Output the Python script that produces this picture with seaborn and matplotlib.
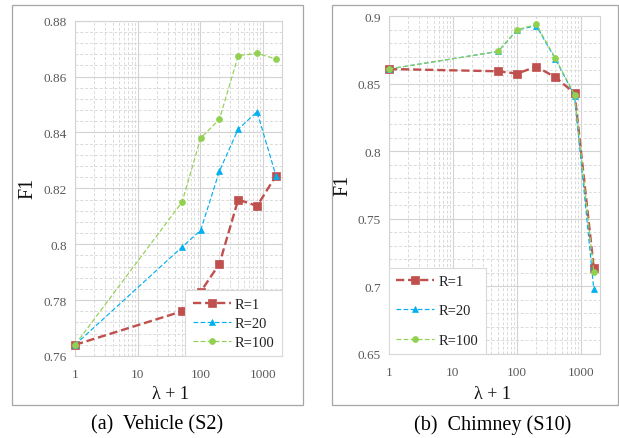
import numpy as np
import pandas as pd
import seaborn as sns
import matplotlib
matplotlib.use("Agg")
import matplotlib.pyplot as plt
from matplotlib.patches import Rectangle
from matplotlib.ticker import FixedLocator, NullFormatter, LogLocator

# lambda + 1 values used in both experiments
lam1 = [1, 51, 101, 201, 401, 801, 1601]

# (a) Vehicle (S2): F1 per R setting
vehicle_r1 = [0.764, 0.776, 0.783, 0.793, 0.816, 0.8137, 0.8245]
vehicle_r20 = [0.764, 0.799, 0.805, 0.8262, 0.8412, 0.8474, 0.8245]
vehicle_r100 = [0.764, 0.8151, 0.838, 0.8447, 0.8675, 0.8683, 0.8663]

# (b) Chimney (S10): F1 per R setting
chimney_r1 = [0.861, 0.8593, 0.8576, 0.8627, 0.8549, 0.843, 0.7136]
chimney_r20 = [0.861, 0.874, 0.8899, 0.893, 0.8684, 0.841, 0.6978]
chimney_r100 = [0.861, 0.874, 0.890, 0.894, 0.869, 0.842, 0.7107]

series_labels = ["R=1", "R=20", "R=100"]
vehicle_yticks = [0.76, 0.78, 0.80, 0.82, 0.84, 0.86, 0.88]
chimney_yticks = [0.65, 0.70, 0.75, 0.80, 0.85, 0.90]
xtick_vals = [1, 10, 100, 1000]
captions = ["(a)  Vehicle (S2)", "(b)  Chimney (S10)"]

sns.set_theme(style="white")
plt.rcParams["font.family"] = ["Liberation Serif", "DejaVu Serif"]

W, H = 619, 439
fig = plt.figure(figsize=(W / 100, H / 100), dpi=100)


def fx(px):
    return px / W


def fy(py):
    return 1 - py / H


styles = [
    dict(color="#C0504D", marker="s", linestyle=(0, (3.5, 1.6)), linewidth=1.7, markersize=6.4),
    dict(color="#00B0F0", marker="^", linestyle=(0, (4, 2)), linewidth=0.85, markersize=4.6),
    dict(color="#92D050", marker="o", linestyle=(0, (4, 2)), linewidth=0.85, markersize=4.3),
]


def draw_panel(ax, series, yticks, minor_step, legend_loc, labelspacing):
    for vals, lab, st in zip(series, series_labels, styles):
        df = pd.DataFrame({"x": lam1, "F1": vals})
        sns.lineplot(data=df, x="x", y="F1", ax=ax, label=lab,
                     color=st["color"], marker=st["marker"],
                     linestyle=st["linestyle"], linewidth=st["linewidth"],
                     markersize=st["markersize"], markeredgecolor=st["color"],
                     markerfacecolor=st["color"], markeredgewidth=0.5,
                     clip_on=False, zorder=3)
    ax.set_xscale("log")
    ax.set_xlim(1, 2000)
    ax.set_ylim(yticks[0], yticks[-1])
    ax.xaxis.set_major_locator(FixedLocator(xtick_vals))
    ax.set_xticklabels([str(v) for v in xtick_vals])
    ax.xaxis.set_minor_locator(LogLocator(base=10, subs=np.arange(2, 10)))
    ax.xaxis.set_minor_formatter(NullFormatter())
    ax.yaxis.set_major_locator(FixedLocator(yticks))
    ax.set_yticklabels([f"{v:g}" for v in yticks])
    minors = np.arange(yticks[0], yticks[-1] + 1e-9, minor_step)
    ax.yaxis.set_minor_locator(FixedLocator(minors))
    ax.grid(True, which="major", color="#d3d3d3", linewidth=0.8, linestyle="-")
    ax.grid(True, which="minor", color="#dadada", linewidth=0.7, linestyle=(0, (3, 2)))
    ax.set_axisbelow(True)
    ax.tick_params(which="both", length=0, colors="#595959", labelsize=9.5)
    ax.tick_params(axis="y", pad=6)
    ax.tick_params(axis="x", pad=9)
    for s in ax.spines.values():
        s.set_color("#d3d3d3")
        s.set_linewidth(0.8)
    ax.set_xlabel("")
    ax.set_ylabel("")
    leg = ax.legend(loc=legend_loc, borderaxespad=0, fontsize=10.5,
                    frameon=True, fancybox=False, framealpha=1,
                    edgecolor="#d9d9d9", handlelength=2.6,
                    labelspacing=labelspacing, borderpad=0.5,
                    handletextpad=0.3)
    leg.get_frame().set_linewidth(0.8)
    for t in leg.get_texts():
        t.set_color("#222222")


ax1 = fig.add_axes([fx(75), fy(357), fx(282) - fx(75), fy(21.7) - fy(357)])
draw_panel(ax1, [vehicle_r1, vehicle_r20, vehicle_r100], vehicle_yticks, 0.004,
           "lower right", 0.4)

ax2 = fig.add_axes([fx(389), fy(355), fx(600) - fx(389), fy(17.3) - fy(355)])
draw_panel(ax2, [chimney_r1, chimney_r20, chimney_r100], chimney_yticks, 0.01,
           "lower left", 1.1)

# chart-area borders
for x0, x1 in [(12, 302.7), (331.7, 618.2)]:
    fig.patches.append(Rectangle((fx(x0), fy(405.7)), fx(x1) - fx(x0), fy(6) - fy(405.7),
                                 transform=fig.transFigure, fill=False,
                                 edgecolor="#a6a6a6", linewidth=0.9))

# axis titles
fig.text(fx(28), fy(188), "F1", rotation=90, ha="center", va="center", fontsize=14.5, color="#111111")
fig.text(fx(343), fy(185), "F1", rotation=90, ha="center", va="center", fontsize=14.5, color="#111111")
fig.text(fx(171), fy(395), "λ + 1", ha="center", va="center", fontsize=13, color="#111111")
fig.text(fx(493), fy(395), "λ + 1", ha="center", va="center", fontsize=13, color="#111111")

# panel captions
fig.text(fx(157.5), fy(425), captions[0], ha="center", va="center", fontsize=14.5, color="black")
fig.text(fx(493), fy(425), captions[1], ha="center", va="center", fontsize=14.5, color="black")

fig.savefig("out.png", dpi=100)
